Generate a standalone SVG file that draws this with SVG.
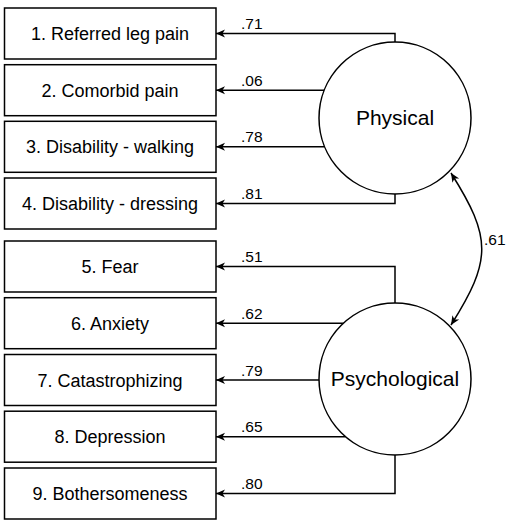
<svg xmlns="http://www.w3.org/2000/svg" width="510" height="528" viewBox="0 0 510 528">
<style>
.box{fill:#fff;stroke:#000;stroke-width:1.5}
.lat{fill:#fff;stroke:#000;stroke-width:1.5}
.t{font-family:"Liberation Sans",Arial,sans-serif;font-size:18px;fill:#000;text-anchor:middle}
.lt{font-family:"Liberation Sans",Arial,sans-serif;font-size:21px;fill:#000;text-anchor:middle}
.w{font-family:"Liberation Sans",Arial,sans-serif;font-size:15.5px;fill:#000}
.c{fill:none;stroke:#000;stroke-width:1.5}
</style>
<defs>
<marker id="ah" viewBox="-10 -5 12 10" refX="0" refY="0" markerWidth="12" markerHeight="10" markerUnits="userSpaceOnUse" orient="auto-start-reverse">
<path d="M-9,-4 L0,0 L-9,4 L-6.5,0 Z" fill="#000"/>
</marker>
</defs>
<g id="connectors">
<path class="c" d="M395,42 V33.5 H216" marker-end="url(#ah)"/>
<path class="c" d="M324.3,90.2 H216" marker-end="url(#ah)"/>
<path class="c" d="M324.5,146.8 H216" marker-end="url(#ah)"/>
<path class="c" d="M395,194 V203.5 H216" marker-end="url(#ah)"/>
<path class="c" d="M395,303 V266.5 H216" marker-end="url(#ah)"/>
<path class="c" d="M343.4,323.2 H216" marker-end="url(#ah)"/>
<path class="c" d="M319,380 H216" marker-end="url(#ah)"/>
<path class="c" d="M345.5,436.7 H216" marker-end="url(#ah)"/>
<path class="c" d="M395,455 V493.5 H216" marker-end="url(#ah)"/>
<path class="c" d="M451,173 C492,238 492,260 451,325" marker-start="url(#ah)" marker-end="url(#ah)"/>
<text class="w" x="241" y="29">.71</text>
<text class="w" x="241" y="85.5">.06</text>
<text class="w" x="241" y="142">.78</text>
<text class="w" x="241" y="199">.81</text>
<text class="w" x="241" y="262">.51</text>
<text class="w" x="241" y="318.5">.62</text>
<text class="w" x="241" y="375.5">.79</text>
<text class="w" x="241" y="432">.65</text>
<text class="w" x="241" y="489">.80</text>
<text class="w" x="484" y="245">.61</text>
</g>
<g id="n1"><rect class="box" x="4.5" y="8" width="211.5" height="51"/><text class="t" x="110" y="40">1. Referred leg pain</text></g>
<g id="n2"><rect class="box" x="4.5" y="64.7" width="211.5" height="51"/><text class="t" x="110" y="96.7">2. Comorbid pain</text></g>
<g id="n3"><rect class="box" x="4.5" y="121.3" width="211.5" height="51"/><text class="t" x="110" y="153.3">3. Disability - walking</text></g>
<g id="n4"><rect class="box" x="4.5" y="178" width="211.5" height="51"/><text class="t" x="110" y="210">4. Disability - dressing</text></g>
<g id="n5"><rect class="box" x="4.5" y="241" width="211.5" height="51"/><text class="t" x="110" y="273">5. Fear</text></g>
<g id="n6"><rect class="box" x="4.5" y="297.7" width="211.5" height="51"/><text class="t" x="110" y="329.7">6. Anxiety</text></g>
<g id="n7"><rect class="box" x="4.5" y="354.5" width="211.5" height="51"/><text class="t" x="110" y="386.5">7. Catastrophizing</text></g>
<g id="n8"><rect class="box" x="4.5" y="411.2" width="211.5" height="51"/><text class="t" x="110" y="443.2">8. Depression</text></g>
<g id="n9"><rect class="box" x="4.5" y="468" width="211.5" height="51"/><text class="t" x="110" y="500">9. Bothersomeness</text></g>
<g id="physical"><circle class="lat" cx="395" cy="118" r="76"/><text class="lt" x="395" y="125">Physical</text></g>
<g id="psychological"><circle class="lat" cx="395" cy="379" r="76"/><text class="lt" x="395" y="386">Psychological</text></g>
</svg>
